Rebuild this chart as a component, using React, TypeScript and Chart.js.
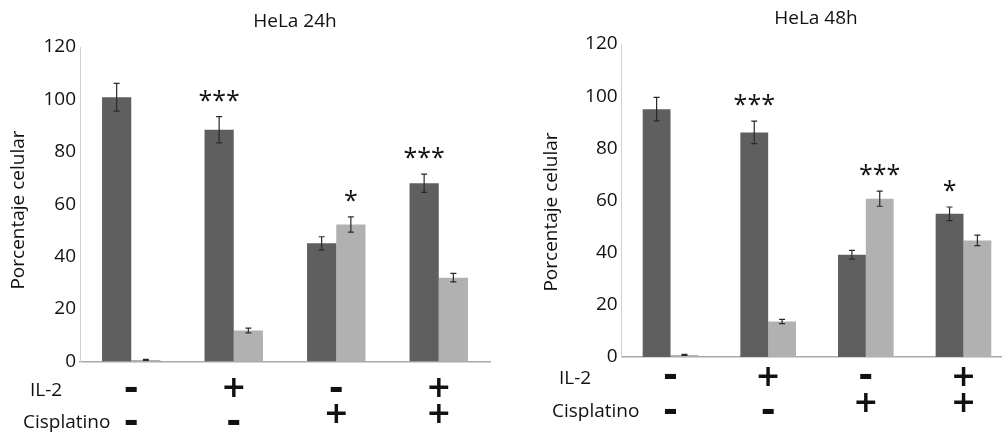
import { useEffect, useRef } from 'react';
import { Chart, registerables } from 'chart.js';

Chart.register(...registerables);

// ---------- data ----------
const groups = ['1', '2', '3', '4'];
const il2Signs = ['-', '+', '-', '+'];
const cisSigns = ['-', '-', '+', '+'];
const yTicks = [0, 20, 40, 60, 80, 100, 120];
const yAxisTitle = 'Porcentaje celular';
const rowLabels = ['IL-2', 'Cisplatino'];

const hela24Title = 'HeLa 24h';
const hela24Dark = [100.8, 88.4, 45.1, 68.0];
const hela24DarkErr = [5.3, 5.0, 2.5, 3.5];
const hela24Light = [0.6, 11.8, 52.3, 32.0];
const hela24LightErr = [0.2, 0.9, 2.9, 1.6];
const hela24DarkStars = ['', '***', '', '***'];
const hela24LightStars = ['', '', '*', ''];

const hela48Title = 'HeLa 48h';
const hela48Dark = [95.0, 86.1, 39.2, 54.9];
const hela48DarkErr = [4.5, 4.3, 1.7, 2.6];
const hela48Light = [0.8, 13.6, 60.7, 44.7];
const hela48LightErr = [0.2, 0.8, 2.9, 2.0];
const hela48DarkStars = ['', '***', '', '*'];
const hela48LightStars = ['', '', '***', ''];

const DARK = '#5f5f5f';
const LIGHT = '#b1b1b1';
const FONT = "'Open Sans', 'Noto Sans', sans-serif";

type Layout = {
  left: number;
  width: number;
  axisWidth: number;
  padRight: number;
  padTop: number;
  bottom: number;
  titleX: number;
  titleY: number;
  yTitleX: number;
  yTitleY: number;
  il2LabelX: number;
  il2LabelY: number;
  cisLabelX: number;
  cisLabelY: number;
  il2PlusY: number;
  il2MinusY: number;
  cisPlusY: number;
  cisMinusY: number;
};

type PanelProps = {
  title: string;
  dark: number[];
  darkErr: number[];
  light: number[];
  lightErr: number[];
  darkStars: string[];
  lightStars: string[];
  layout: Layout;
};

const HEIGHT = 435;

function Panel({ title, dark, darkErr, light, lightErr, darkStars, lightStars, layout }: PanelProps) {
  const ref = useRef<HTMLCanvasElement | null>(null);

  useEffect(() => {
    if (!ref.current) return;
    const L = layout;

    const decorations = {
      id: 'decorations',
      afterDatasetsDraw(chart: any) {
        const ctx = chart.ctx as CanvasRenderingContext2D;
        const yScale = chart.scales.y;
        const xScale = chart.scales.x;
        ctx.save();
        // error bars + stars
        chart.data.datasets.forEach((ds: any, d: number) => {
          const meta = chart.getDatasetMeta(d);
          meta.data.forEach((el: any, i: number) => {
            const v = ds.data[i];
            const e = ds.errors[i];
            const x = el.x;
            const yTop = yScale.getPixelForValue(v + e);
            const yBot = yScale.getPixelForValue(Math.max(0, v - e));
            ctx.strokeStyle = '#2a2a2a';
            ctx.lineWidth = 1.2;
            ctx.beginPath();
            ctx.moveTo(x, yTop);
            ctx.lineTo(x, yBot);
            ctx.moveTo(x - 3, yTop);
            ctx.lineTo(x + 3, yTop);
            ctx.moveTo(x - 3, yBot);
            ctx.lineTo(x + 3, yBot);
            ctx.stroke();
            const s = ds.stars[i];
            if (s) {
              ctx.fillStyle = '#111';
              ctx.font = `25px ${FONT}`;
              ctx.textAlign = 'center';
              ctx.textBaseline = 'alphabetic';
              ctx.fillText(s, x, yTop - 8);
            }
          });
        });
        // title
        ctx.fillStyle = '#111';
        ctx.font = `19px ${FONT}`;
        ctx.textAlign = 'center';
        ctx.textBaseline = 'alphabetic';
        ctx.fillText(title, L.titleX, L.titleY);
        // y title
        ctx.save();
        ctx.translate(L.yTitleX, L.yTitleY);
        ctx.rotate(-Math.PI / 2);
        ctx.font = `19px ${FONT}`;
        ctx.textBaseline = 'middle';
        ctx.fillText(yAxisTitle, 0, 0);
        ctx.restore();
        // row labels
        ctx.font = `19px ${FONT}`;
        ctx.textAlign = 'left';
        ctx.textBaseline = 'alphabetic';
        ctx.fillText(rowLabels[0], L.il2LabelX, L.il2LabelY);
        ctx.fillText(rowLabels[1], L.cisLabelX, L.cisLabelY);
        // signs
        ctx.textAlign = 'center';
        ctx.textBaseline = 'middle';
        groups.forEach((_, i) => {
          const x = xScale.getPixelForValue(i);
          const draw = (sign: string, plusY: number, minusY: number) => {
            const isPlus = sign === '+';
            ctx.font = isPlus
              ? `bold 30px 'DejaVu Sans', sans-serif`
              : `bold 36px 'DejaVu Sans', sans-serif`;
            ctx.fillText(sign, x, isPlus ? plusY : minusY);
          };
          draw(il2Signs[i], L.il2PlusY, L.il2MinusY);
          draw(cisSigns[i], L.cisPlusY, L.cisMinusY);
        });
        ctx.restore();
      },
    };

    const chart = new Chart(ref.current, {
      type: 'bar',
      data: {
        labels: groups,
        datasets: [
          {
            data: dark,
            backgroundColor: DARK,
            borderWidth: 0,
            errors: darkErr,
            stars: darkStars,
          } as any,
          {
            data: light,
            backgroundColor: LIGHT,
            borderWidth: 0,
            errors: lightErr,
            stars: lightStars,
          } as any,
        ],
      },
      options: {
        responsive: false,
        animation: false,
        devicePixelRatio: 1,
        layout: { padding: { left: 0, right: L.padRight, top: L.padTop, bottom: 0 } },
        datasets: { bar: { categoryPercentage: 0.57, barPercentage: 1 } },
        plugins: { legend: { display: false }, title: { display: false }, tooltip: { enabled: false } },
        scales: {
          x: {
            type: 'category',
            grid: { display: false, drawTicks: false },
            ticks: { display: false },
            border: { display: true, color: '#a9a9a9', width: 1.5 },
            afterFit: (s: any) => {
              s.height = HEIGHT - L.bottom;
            },
          },
          y: {
            min: 0,
            max: 120,
            grid: { display: false, drawTicks: false },
            border: { display: true, color: '#d2d2d2', width: 1 },
            ticks: {
              padding: 4,
              color: '#111',
              font: { family: FONT, size: 19 },
            },
            afterBuildTicks: (s: any) => {
              s.ticks = yTicks.map((v) => ({ value: v }));
            },
            afterFit: (s: any) => {
              s.width = L.axisWidth;
            },
          },
        },
      },
      plugins: [decorations],
    });
    return () => chart.destroy();
  }, []);

  return (
    <div style={{ position: 'absolute', left: layout.left, top: 0, width: layout.width, height: HEIGHT }}>
      <canvas ref={ref} width={layout.width} height={HEIGHT} style={{ display: 'block' }} />
    </div>
  );
}

const leftLayout: Layout = {
  left: 0,
  width: 500,
  axisWidth: 80,
  padRight: 10,
  padTop: 47,
  bottom: 361.5,
  titleX: 295,
  titleY: 27,
  yTitleX: 19,
  yTitleY: 210,
  il2LabelX: 30,
  il2LabelY: 396,
  cisLabelX: 23,
  cisLabelY: 428,
  il2PlusY: 389,
  il2MinusY: 391,
  cisPlusY: 415,
  cisMinusY: 424,
};

const rightLayout: Layout = {
  left: 500,
  width: 520,
  axisWidth: 121.7,
  padRight: 7.7,
  padTop: 44,
  bottom: 357,
  titleX: 316,
  titleY: 24,
  yTitleX: 51.5,
  yTitleY: 212,
  il2LabelX: 59,
  il2LabelY: 384,
  cisLabelX: 52,
  cisLabelY: 417,
  il2PlusY: 378,
  il2MinusY: 378,
  cisPlusY: 404.5,
  cisMinusY: 413,
};

export default function App() {
  return (
    <div
      style={{
        position: 'fixed',
        left: 0,
        top: 0,
        width: 1002,
        height: HEIGHT,
        overflow: 'hidden',
        background: '#fff',
      }}
    >
      <Panel
        title={hela24Title}
        dark={hela24Dark}
        darkErr={hela24DarkErr}
        light={hela24Light}
        lightErr={hela24LightErr}
        darkStars={hela24DarkStars}
        lightStars={hela24LightStars}
        layout={leftLayout}
      />
      <Panel
        title={hela48Title}
        dark={hela48Dark}
        darkErr={hela48DarkErr}
        light={hela48Light}
        lightErr={hela48LightErr}
        darkStars={hela48DarkStars}
        lightStars={hela48LightStars}
        layout={rightLayout}
      />
    </div>
  );
}
